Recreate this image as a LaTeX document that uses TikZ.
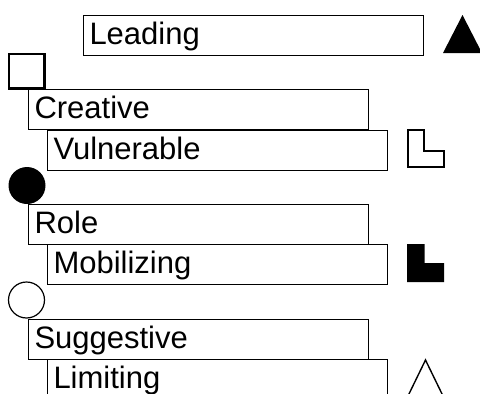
\documentclass[tikz,border=0pt]{standalone}
\usepackage{fontspec}
\setmainfont{Liberation Sans}
\begin{document}
\begin{tikzpicture}[x=1pt,y=-1pt,
  lbl/.style={draw=black, line width=1pt, rectangle, anchor=north west,
    text width=328pt, align=left, inner xsep=6pt, inner ysep=0pt,
    text height=29pt, text depth=11pt, font=\fontsize{31}{37}\selectfont}]
\useasboundingbox (0,0) rectangle (480,394);
\clip (0,0) rectangle (480,394);
% text boxes
\node[lbl] (leading) at (83,15) {Leading};
\node[lbl] (creative) at (28,89) {Creative};
\node[lbl] (vulnerable) at (47,129.5) {Vulnerable};
\node[lbl] (role) at (28,204) {Role};
\node[lbl] (mobilizing) at (47,243.5) {Mobilizing};
\node[lbl] (suggestive) at (28,318.5) {Suggestive};
\node[lbl] (limiting) at (47,359) {Limiting};
% symbols
\fill[black] (443,53) -- (462.5,15) -- (482,53) -- cycle;
\draw[line width=2.2pt] (9,54) rectangle (44.5,88.5);
\draw[line width=2pt] (408,130) -- (423.5,130) -- (423.5,150.5) -- (443.5,150.5) -- (443.5,166.5) -- (408,166.5) -- cycle;
\fill[black] (27,185.5) circle (18.5);
\fill[black] (407,244) -- (424.5,244) -- (424.5,263) -- (444,263) -- (444,282) -- (407,282) -- cycle;
\draw[line width=1.2pt] (26.5,300) circle (18);
\draw[line width=1.4pt] (407.5,397) -- (425.5,360) -- (443.5,397) -- cycle;
\end{tikzpicture}
\end{document}
